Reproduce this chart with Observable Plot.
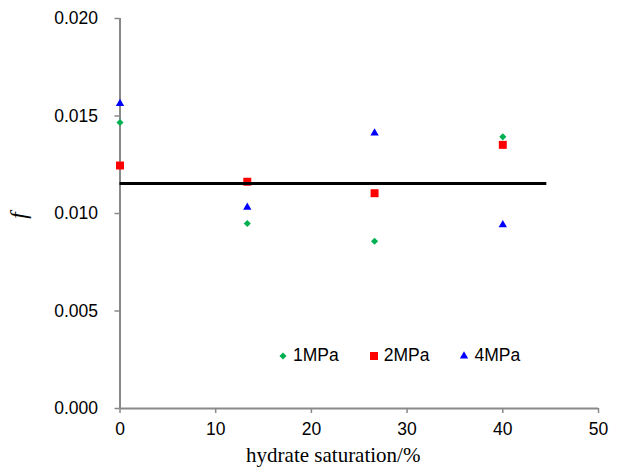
<!DOCTYPE html>
<html><head><meta charset="utf-8">
<script src="https://cdn.jsdelivr.net/npm/d3@7"></script>
<script src="https://cdn.jsdelivr.net/npm/@observablehq/plot@0.6"></script>
<style>
body{margin:0;background:#fff}
#wrap{position:relative;width:617px;height:471px;font-family:"Liberation Sans",Arial,sans-serif}
#legend{position:absolute;left:278px;top:345px;display:flex;align-items:center;font-size:17.5px;color:#000}
.item{display:flex;align-items:center;margin-right:30px}
.item svg{margin-right:5px}
</style>
</head><body><div id="wrap"><div id="chart"></div><div id="legend"></div></div>
<script>
const saturation = [0, 13.3, 26.6, 40];
const f1MPa = [0.01467, 0.00949, 0.00858, 0.01393];
const f2MPa = [0.01246, 0.01163, 0.01104, 0.01352];
const f4MPa = [0.01564, 0.01032, 0.01412, 0.00942];
const seriesNames = ["1MPa", "2MPa", "4MPa"];
const seriesColors = ["#00b050", "#ff0000", "#0000ff"];
const seriesSymbols = ["diamond2", "square", "triangle"];
const meanF = [0.01154];
const meanExtent = [0, 44.6];
const xTicks = [0, 10, 20, 30, 40, 50];
const yTicks = [0, 0.005, 0.010, 0.015, 0.020];
const xLabel = "hydrate saturation/%";
const yLabel = "f";

const series = [f1MPa, f2MPa, f4MPa];
const radii = [3.2, 4.5, 3.1];
const gray = "#898989";

const dotMarks = series.map((vals, i) =>
  Plot.dot(saturation.map((s, j) => ({x: s, y: vals[j]})), {
    x: "x", y: "y", symbol: () => seriesSymbols[i], fill: seriesColors[i], r: radii[i], stroke: "none"
  })
);

const chart = Plot.plot({
  width: 617, height: 471,
  marginLeft: 119.5, marginRight: 19, marginTop: 18, marginBottom: 63,
  style: {fontFamily: '"Liberation Sans", Arial, sans-serif', fontSize: "17.5px", color: "#000", background: "#fff"},
  x: {domain: [0, 50], ticks: xTicks},
  y: {domain: [0, 0.02], ticks: yTicks},
  symbol: {type: "identity"},
  marks: [
    Plot.axisX({ticks: xTicks, tickSize: 5, tickPadding: 9, stroke: gray, strokeWidth: 1.5, fill: "#000", label: null, tickFormat: d3.format("d")}),
    Plot.axisY({ticks: yTicks, tickSize: 5, tickPadding: 17, stroke: gray, strokeWidth: 1.5, fill: "#000", label: null, tickFormat: d3.format(".3f")}),
    Plot.ruleX([0], {stroke: gray, strokeWidth: 2}),
    Plot.ruleY([0], {stroke: gray, strokeWidth: 2}),
    ...dotMarks,
    Plot.ruleY(meanF, {x1: meanExtent[0], x2: meanExtent[1], stroke: "#000", strokeWidth: 3}),
    Plot.text([xLabel], {frameAnchor: "bottom", dx: -26, dy: 53, fontFamily: '"Liberation Serif", "Times New Roman", serif', fontSize: 21, fill: "#000"}),
    Plot.text([yLabel], {frameAnchor: "left", textAnchor: "middle", dx: -101, dy: 2, rotate: -90, fontFamily: '"Liberation Serif", "Times New Roman", serif', fontStyle: "italic", fontSize: 23, fill: "#000"})
  ]
});
document.getElementById("chart").appendChild(chart);

const legend = d3.select("#legend");
seriesNames.forEach((name, i) => {
  const item = legend.append("div").attr("class", "item");
  const svg = item.append("svg").attr("width", 10).attr("height", 10);
  const size = Math.PI * radii[i] * radii[i];
  const sym = {diamond2: d3.symbolDiamond2, square: d3.symbolSquare, triangle: d3.symbolTriangle}[seriesSymbols[i]];
  svg.append("path").attr("transform", "translate(5,5)").attr("d", d3.symbol(sym, size)()).attr("fill", seriesColors[i]);
  item.append("span").text(name);
});
</script></body></html>
